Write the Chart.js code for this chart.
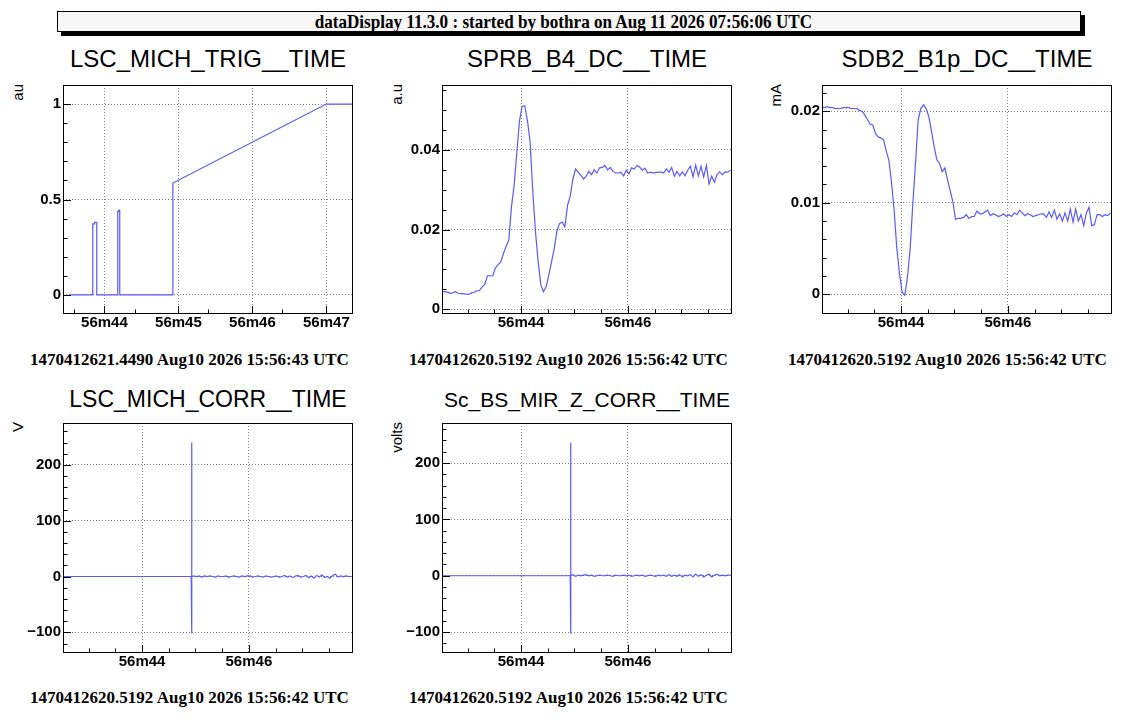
<!DOCTYPE html>
<html>
<head>
<meta charset="utf-8">
<script src="https://cdn.jsdelivr.net/npm/chart.js@4/dist/chart.umd.min.js"></script>
<style>
body { margin: 0; background: #fff; width: 1136px; height: 720px; position: relative; overflow: hidden; font-family: "Liberation Sans", Arial, sans-serif; }
#banner { position: absolute; left: 57px; top: 11px; width: 1022px; height: 19px; border: 1px solid #000; background: #f7f7f7;
          box-shadow: 4px 4px 0 #000; text-align: center; font: bold 19px "Liberation Serif", serif; line-height: 19px; }
#banner span { display: inline-block; transform: scaleX(0.9); white-space: nowrap; margin-left: -12px; }
.ptitle { position: absolute; width: 380px; margin-left: -190px; text-align: center; white-space: nowrap; }
.psub { position: absolute; width: 379px; text-align: center; font: bold 17px "Liberation Serif", serif; line-height: 17px; white-space: nowrap; }
.unit { position: absolute; width: 120px; text-align: right; font-size: 15px; line-height: 15px; white-space: nowrap;
        transform-origin: 0 0; transform: rotate(-90deg); }
canvas { position: absolute; }
</style>
</head>
<body>
<div id="banner"><span>dataDisplay 11.3.0 : started by bothra on Aug 11 2026 07:56:06 UTC</span></div>
<script>
// all times are seconds past 15:56 UTC
const sampleStart = 42.52;
const sampleStep = 0.05;

// LSC_MICH_TRIG: corner points of the trigger trace
const trigTimes  = [43.53, 43.842, 43.842, 43.868, 43.868, 43.896, 43.896, 44.180, 44.180, 44.195, 44.195, 44.207, 44.207, 44.925, 44.925, 47.0, 47.36];
const trigValues = [0, 0, 0.372, 0.372, 0.38, 0.38, 0, 0, 0.438, 0.438, 0.445, 0.445, 0, 0, 0.586, 1.0, 1.0];

// SPRB_B4_DC (a.u), one value per sample
const sprbValues = [
  0.0044, 0.0044, 0.0043, 0.0040, 0.0041, 0.0044, 0.0040, 0.0039, 0.0039, 0.0038,
  0.0037, 0.0041, 0.0042, 0.0046, 0.0047, 0.0056, 0.0062, 0.0084, 0.0084, 0.0084,
  0.0104, 0.0112, 0.0119, 0.0140, 0.0158, 0.0173, 0.0257, 0.0311, 0.0394, 0.0473,
  0.0509, 0.0511, 0.0473, 0.0419, 0.0294, 0.0194, 0.0119, 0.0061, 0.0044, 0.0057,
  0.0086, 0.0119, 0.0151, 0.0196, 0.0215, 0.0219, 0.0207, 0.0261, 0.0284, 0.0327,
  0.0352, 0.0344, 0.0336, 0.0327, 0.0334, 0.0346, 0.0338, 0.0350, 0.0342, 0.0355,
  0.0356, 0.0361, 0.0350, 0.0356, 0.0346, 0.0342, 0.0342, 0.0344, 0.0335, 0.0349,
  0.0340, 0.0355, 0.0352, 0.0361, 0.0357, 0.0349, 0.0354, 0.0342, 0.0344, 0.0342,
  0.0343, 0.0344, 0.0344, 0.0342, 0.0352, 0.0344, 0.0356, 0.0334, 0.0346, 0.0335,
  0.0345, 0.0335, 0.0349, 0.0359, 0.0332, 0.0362, 0.0335, 0.0359, 0.0332, 0.0361,
  0.0315, 0.0334, 0.0319, 0.0338, 0.0345, 0.0338, 0.0345, 0.0344, 0.0350
];

// SDB2_B1p_DC (mA)
const sdb2Values = [
  0.0204, 0.0204, 0.0205, 0.0204, 0.0204, 0.0203, 0.0203, 0.0203, 0.0204, 0.0204,
  0.0204, 0.0203, 0.0203, 0.0203, 0.0201, 0.0200, 0.0196, 0.0191, 0.0186, 0.0185,
  0.0176, 0.0172, 0.0171, 0.0169, 0.0157, 0.0147, 0.0123, 0.0092, 0.0050, 0.0023,
  0.0002, -0.0001, 0.0019, 0.0050, 0.0099, 0.0143, 0.0191, 0.0203, 0.0207, 0.0203,
  0.0194, 0.0178, 0.0161, 0.0147, 0.0143, 0.0134, 0.0138, 0.0125, 0.0113, 0.0101,
  0.0082, 0.0083, 0.0083, 0.0084, 0.0087, 0.0083, 0.0085, 0.0085, 0.0091, 0.0088,
  0.0088, 0.0090, 0.0092, 0.0086, 0.0088, 0.0087, 0.0085, 0.0086, 0.0088, 0.0085,
  0.0087, 0.0085, 0.0089, 0.0087, 0.0092, 0.0089, 0.0086, 0.0088, 0.0087, 0.0085,
  0.0086, 0.0087, 0.0088, 0.0088, 0.0084, 0.0090, 0.0084, 0.0092, 0.0082, 0.0088,
  0.0080, 0.0089, 0.0080, 0.0093, 0.0079, 0.0093, 0.0080, 0.0087, 0.0075, 0.0089,
  0.0095, 0.0075, 0.0076, 0.0087, 0.0087, 0.0085, 0.0087, 0.0086, 0.0089
];

// LSC_MICH_CORR (V), flat until the kick
const michCorrValues = [
  0, 0, 0, 0, 0, 0, 0, 0, 0, 0,
  0, 0, 0, 0, 0, 0, 0, 0, 0, 0,
  0, 0, 0, 0, 0, 0, 0, 0, 0, 0,
  0, 0, 0, 0, 0, 0, 0, 0, 0, 0,
  0, 0, 0, 0, 0, 0, 0, 0, 0,
  1, 0, 1, -1, 1, 0, 1, 0, -1, 1,
  0, 0, 1, -1, 0, 1, 0, -1, 1, 0,
  1, 1, -1, 0, 1, 0, -1, 1, 0, -1,
  0, 1, -1, 0, 2, -1, 1, -2, 1, 2,
  -1, 0, 2, -2, 1, -3, 2, -1, 3, -2,
  0, -3, 2, 4, -1, 1, 0, 1, 0, 0
];

// Sc_BS_MIR_Z_CORR (volts)
const bsCorrValues = [
  0, 0, 0, 0, 0, 0, 0, 0, 0, 0,
  0, 0, 0, 0, 0, 0, 0, 0, 0, 0,
  0, 0, 0, 0, 0, 0, 0, 0, 0, 0,
  0, 0, 0, 0, 0, 0, 0, 0, 0, 0,
  0, 0, 0, 0, 0, 0, 0, 0, 0,
  2, -1, 1, 0, 1, 2, 0, 1, -1, 0,
  1, 0, 0, 1, 0, -1, 1, 0, 0, 1,
  0, 1, -1, 0, 1, 0, 1, -1, 0, 1,
  0, -1, 1, 0, 1, -1, 2, -1, 1, -1,
  2, -2, 1, 0, 2, -2, 3, -1, 2, -2,
  1, 3, -2, 1, 3, 0, 1, 0, 1, 1
];

// the single-sample kick in both CORR channels: [top, bottom]
const kickTime = 44.93;
const michCorrKick = [240, -102];
const bsCorrKick = [236, -103];

// tick labels
const trigXTicks = [44, 45, 46, 47];
const trigXLabels = ['56m44', '56m45', '56m46', '56m47'];
const wideXTicks = [44, 46];
const wideXLabels = ['56m44', '56m46'];
const trigYTicks = [0, 0.5, 1];
const trigYLabels = ['0', '0.5', '1'];
const sprbYTicks = [0, 0.02, 0.04];
const sprbYLabels = ['0', '0.02', '0.04'];
const sdb2YTicks = [0, 0.01, 0.02];
const sdb2YLabels = ['0', '0.01', '0.02'];
const corrYTicks = [-100, 0, 100, 200];
const corrYLabels = ['\u2212100', '0', '100', '200'];

const lineBlue = 'rgb(90, 90, 255)';
const tickFont = { family: '"Liberation Sans", Arial, sans-serif', size: 15, weight: 'bold' };

function steps(from, to, step) {
  const out = [];
  for (let v = from; v <= to + step / 2; v += step) out.push(+v.toFixed(6));
  return out;
}

function sampled(values) {
  return values.map((v, i) => ({ x: sampleStart + i * sampleStep, y: v }));
}

function withKick(values, kick) {
  const pts = sampled(values);
  const before = pts.filter(p => p.x < kickTime);
  const after = pts.filter(p => p.x >= kickTime);
  return before.concat([
    { x: kickTime, y: 0 }, { x: kickTime, y: kick[0] },
    { x: kickTime, y: kick[1] }, { x: kickTime, y: 0 }
  ], after);
}

// no label padding, so the plot box is exactly where the layout puts it
function noPad(s) {
  s.paddingTop = 0; s.paddingBottom = 0; s.paddingLeft = 0; s.paddingRight = 0;
}

// draws the ROOT style frame and the inward tick marks
const rootFrame = {
  id: 'rootFrame',
  afterDatasetsDraw(chart, args, opts) {
    const { ctx, chartArea: a, scales: { x, y } } = chart;
    ctx.save();
    ctx.strokeStyle = '#000';
    ctx.lineWidth = 1;
    ctx.beginPath();
    const xt = (list, len) => list.forEach(v => {
      if (v <= x.min || v >= x.max) return;
      const px = Math.round(x.getPixelForValue(v)) + 0.5;
      ctx.moveTo(px, a.bottom); ctx.lineTo(px, a.bottom - len);
    });
    const yt = (list, len) => list.forEach(v => {
      if (v <= y.min || v >= y.max) return;
      const py = Math.round(y.getPixelForValue(v)) + 0.5;
      ctx.moveTo(a.left, py); ctx.lineTo(a.left + len, py);
    });
    xt(opts.xMajor, 8); xt(opts.xMinor, 4.5);
    yt(opts.yMajor, 8); yt(opts.yMinor, 4.5);
    ctx.stroke();
    ctx.strokeRect(Math.round(a.left) + 0.5, Math.round(a.top) + 0.5,
                   Math.round(a.right - a.left) - 1, Math.round(a.bottom - a.top) - 1);
    ctx.restore();
  }
};

const panels = [
  { title: 'LSC_MICH_TRIG__TIME', titleSize: 24, unit: 'au', sub: '1470412621.4490 Aug10 2026 15:56:43 UTC',
    box: [63, 85, 353, 314], cell: 0, row: 0,
    data: trigTimes.map((t, i) => ({ x: t, y: trigValues[i] })),
    xMin: 43.44, xMax: 47.36, xTicks: trigXTicks, xLabels: trigXLabels, xMinor: [43.59, 44.41, 45.4, 46.4],
    yMin: -0.1, yMax: 1.1, yTicks: trigYTicks, yLabels: trigYLabels, yMinor: steps(-0.1, 1.1, 0.1) },
  { title: 'SPRB_B4_DC__TIME', titleSize: 24, unit: 'a.u', sub: '1470412620.5192 Aug10 2026 15:56:42 UTC',
    box: [442, 85, 732, 314], cell: 1, row: 0,
    data: sampled(sprbValues),
    xMin: 42.519, xMax: 47.95, xTicks: wideXTicks, xLabels: wideXLabels, xMinor: steps(42.5, 48, 0.5),
    yMin: -0.0012, yMax: 0.0563, yTicks: sprbYTicks, yLabels: sprbYLabels, yMinor: steps(-0.005, 0.06, 0.005) },
  { title: 'SDB2_B1p_DC__TIME', titleSize: 24, unit: 'mA', sub: '1470412620.5192 Aug10 2026 15:56:42 UTC',
    box: [822, 85, 1112, 314], cell: 2, row: 0,
    data: sampled(sdb2Values),
    xMin: 42.519, xMax: 47.95, xTicks: wideXTicks, xLabels: wideXLabels, xMinor: steps(42.5, 48, 0.5),
    yMin: -0.00215, yMax: 0.02287, yTicks: sdb2YTicks, yLabels: sdb2YLabels, yMinor: steps(-0.002, 0.024, 0.002) },
  { title: 'LSC_MICH_CORR__TIME', titleSize: 23, unit: 'V', sub: '1470412620.5192 Aug10 2026 15:56:42 UTC',
    box: [63, 423, 353, 653], cell: 0, row: 1,
    data: withKick(michCorrValues, michCorrKick),
    xMin: 42.519, xMax: 47.95, xTicks: wideXTicks, xLabels: wideXLabels, xMinor: steps(42.5, 48, 0.5),
    yMin: -137, yMax: 275, yTicks: corrYTicks, yLabels: corrYLabels, yMinor: steps(-140, 280, 20) },
  { title: 'Sc_BS_MIR_Z_CORR__TIME', titleSize: 21, unit: 'volts', sub: '1470412620.5192 Aug10 2026 15:56:42 UTC',
    box: [442, 423, 732, 653], cell: 1, row: 1,
    data: withKick(bsCorrValues, bsCorrKick),
    xMin: 42.519, xMax: 47.95, xTicks: wideXTicks, xLabels: wideXLabels, xMinor: steps(42.5, 48, 0.5),
    yMin: -137, yMax: 271, yTicks: corrYTicks, yLabels: corrYLabels, yMinor: steps(-140, 280, 20) }
];

const cellLeft = [0, 379, 758];
const titleBaseline = [67, 407];
const subTop = [351, 689];

panels.forEach(p => {
  const [l, t, r, b] = p.box;

  const title = document.createElement('div');
  title.className = 'ptitle';
  title.style.left = ((l + r) / 2) + 'px';
  title.style.fontSize = p.titleSize + 'px';
  title.style.lineHeight = p.titleSize + 'px';
  title.style.top = (titleBaseline[p.row] - 0.8465 * p.titleSize) + 'px';
  title.textContent = p.title;
  document.body.appendChild(title);

  const sub = document.createElement('div');
  sub.className = 'psub';
  sub.style.left = cellLeft[p.cell] + 'px';
  sub.style.top = subTop[p.row] + 'px';
  sub.textContent = p.sub;
  document.body.appendChild(sub);

  const unit = document.createElement('div');
  unit.className = 'unit';
  unit.style.left = (cellLeft[p.cell] + 10) + 'px';
  unit.style.top = (t - 1 + 120) + 'px';
  unit.textContent = p.unit;
  document.body.appendChild(unit);

  const cv = document.createElement('canvas');
  cv.width = (r - l) + 60;
  cv.height = (b - t) + 30;
  cv.style.left = (l - 55) + 'px';
  cv.style.top = (t - 5) + 'px';
  document.body.appendChild(cv);

  new Chart(cv.getContext('2d'), {
    type: 'line',
    data: {
      datasets: [{
        data: p.data,
        borderColor: lineBlue,
        borderWidth: 1.2,
        pointRadius: 0,
        fill: false,
        tension: 0
      }]
    },
    options: {
      responsive: false,
      animation: false,
      events: [],
      layout: { autoPadding: false, padding: { left: 0, top: 5, right: 5, bottom: 0 } },
      plugins: {
        legend: { display: false },
        tooltip: { enabled: false },
        rootFrame: { xMajor: p.xTicks, xMinor: p.xMinor, yMajor: p.yTicks, yMinor: p.yMinor }
      },
      scales: {
        x: {
          type: 'linear', min: p.xMin, max: p.xMax,
          afterBuildTicks: s => { s.ticks = p.xTicks.map(v => ({ value: v })); },
          afterFit: s => { s.height = 25; noPad(s); },
          ticks: { font: tickFont, color: '#000', padding: 0, maxRotation: 0, autoSkip: false,
                   callback: (v, i) => p.xLabels[i] },
          grid: { color: '#808080', lineWidth: 1, drawTicks: false },
          border: { display: false, dash: [1, 2] }
        },
        y: {
          type: 'linear', min: p.yMin, max: p.yMax,
          afterBuildTicks: s => { s.ticks = p.yTicks.map(v => ({ value: v })); },
          afterFit: s => { s.width = 55; noPad(s); },
          ticks: { font: tickFont, color: '#000', padding: 2, autoSkip: false,
                   callback: (v, i) => p.yLabels[i] },
          grid: { color: '#808080', lineWidth: 1, drawTicks: false },
          border: { display: false, dash: [1, 2] }
        }
      }
    },
    plugins: [rootFrame]
  });
});
</script>
</body>
</html>
